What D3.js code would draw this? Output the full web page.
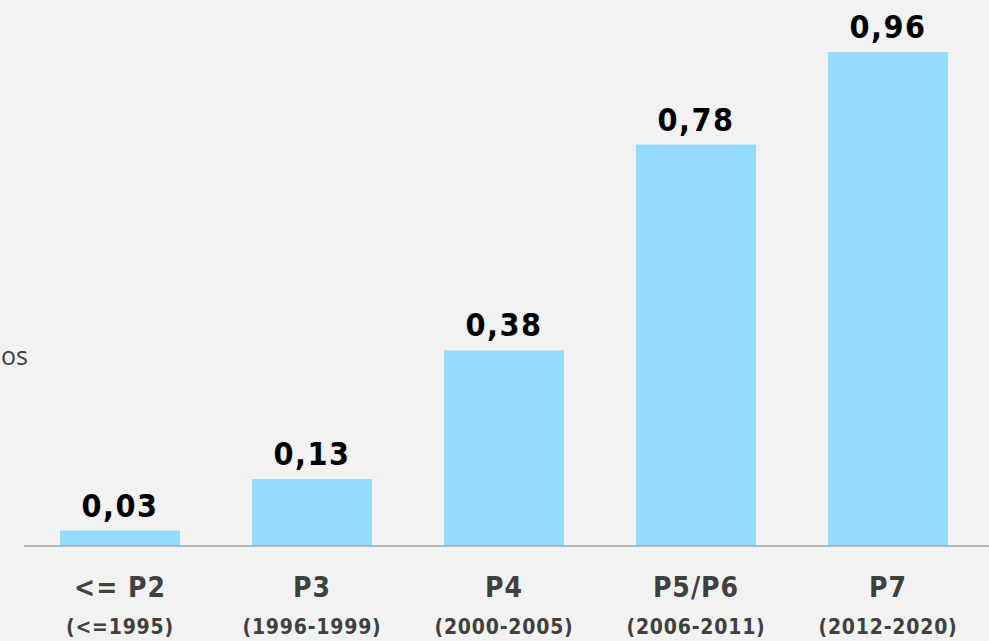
<!DOCTYPE html>
<html>
<head>
<meta charset="utf-8">
<script src="https://cdn.jsdelivr.net/npm/d3@7"></script>
<style>
  html, body { margin: 0; padding: 0; background: #f2f2f2; }
  svg { display: block; }
</style>
</head>
<body>
<svg id="chart" width="989" height="641"></svg>
<script>
const categories = ["<= P2", "P3", "P4", "P5/P6", "P7"];
const periods = ["(<=1995)", "(1996-1999)", "(2000-2005)", "(2006-2011)", "(2012-2020)"];
const values = [0.03, 0.13, 0.38, 0.78, 0.96];
const sideLabel = "os";

const svg = d3.select("#chart");
const W = 989, H = 641;
svg.append("rect").attr("width", W).attr("height", H).attr("fill", "#f2f2f2");

const x = d3.scaleBand().domain(categories).range([24, 984]).paddingInner(0.375).paddingOuter(0.1875);
const y = d3.scaleLinear().domain([0, 0.96]).range([546, 52]);

const fmt = v => d3.format(".2f")(v).replace(".", ",");

svg.append("text")
  .attr("x", 1).attr("y", 365)
  .attr("text-anchor", "start")
  .attr("font-family", "'Open Sans', sans-serif")
  .attr("font-size", 25)
  .attr("fill", "#404040")
  .text(sideLabel);

svg.selectAll("rect.bar").data(values).join("rect")
  .attr("class", "bar")
  .attr("x", (d, i) => x(categories[i]))
  .attr("width", x.bandwidth())
  .attr("y", d => y(d))
  .attr("height", d => y(0) - y(d))
  .attr("fill", "#93dbfe");

svg.selectAll("text.val").data(values).join("text")
  .attr("class", "val")
  .attr("x", (d, i) => x(categories[i]) + x.bandwidth() / 2)
  .attr("y", d => y(d) - 14)
  .attr("text-anchor", "middle")
  .attr("font-family", "'DejaVu Sans Condensed', 'DejaVu Sans', sans-serif")
  .attr("font-weight", "bold")
  .attr("font-size", 32)
  .attr("letter-spacing", 1.5)
  .attr("fill", "#000")
  .text(d => fmt(d));

const axis = d3.axisBottom(x).tickSize(0).tickFormat("");
const ag = svg.append("g").attr("transform", `translate(0,${y(0)})`).call(axis);
ag.select(".domain").attr("d", `M24,0H${W}`).attr("stroke", "#a6a6a6").attr("stroke-width", 1.5);

svg.selectAll("text.cat").data(categories).join("text")
  .attr("class", "cat")
  .attr("x", d => x(d) + x.bandwidth() / 2)
  .attr("y", 597)
  .attr("text-anchor", "middle")
  .attr("font-family", "'DejaVu Sans Condensed', 'DejaVu Sans', sans-serif")
  .attr("font-weight", "bold")
  .attr("font-size", 28)
  .attr("letter-spacing", 1)
  .attr("fill", "#404040")
  .text(d => d);

svg.selectAll("text.per").data(periods).join("text")
  .attr("class", "per")
  .attr("x", (d, i) => x(categories[i]) + x.bandwidth() / 2)
  .attr("y", 634)
  .attr("text-anchor", "middle")
  .attr("font-family", "'DejaVu Sans Condensed', 'DejaVu Sans', sans-serif")
  .attr("font-weight", "bold")
  .attr("font-size", 21)
  .attr("letter-spacing", 0.8)
  .attr("fill", "#404040")
  .text(d => d);
</script>
</body>
</html>
